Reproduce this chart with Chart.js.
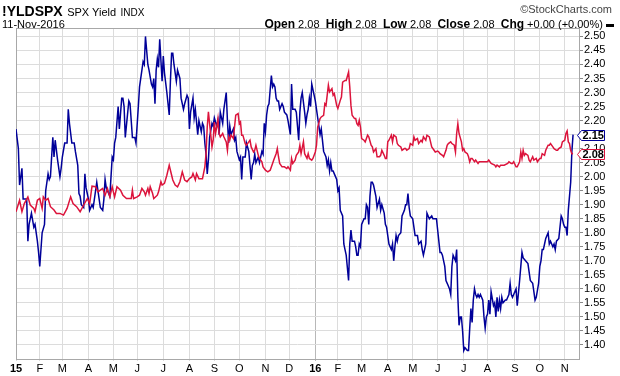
<!DOCTYPE html>
<html>
<head>
<meta charset="utf-8">
<script src="https://cdn.jsdelivr.net/npm/chart.js@4/dist/chart.umd.min.js"></script>
<style>
  html, body { margin: 0; padding: 0; background: #fff; }
  #wrap { position: relative; width: 620px; height: 376px; overflow: hidden; font-family: "Liberation Sans", Arial, sans-serif; }
  #c { position: absolute; left: 0; top: 0; }
  .t { position: absolute; white-space: nowrap; color: #000; line-height: 1; }
</style>
</head>
<body>
<div id="wrap">
  <canvas id="c" width="620" height="376"></canvas>
  <div class="t" style="left:2px;top:3px;"><span style="font-weight:bold;font-size:14px;">!YLDSPX</span> <span style="font-size:11px;">SPX Yield</span> <span style="font-size:10px;">INDX</span></div>
  <div class="t" style="left:2px;top:19px;font-size:11px;">11-Nov-2016</div>
  <div class="t" style="right:8px;top:4px;font-size:11px;color:#444;">©StockCharts.com</div>
  <div class="t" style="right:6px;top:18px;font-size:11px;"><b style="font-size:12px;">Open</b> 2.08 &nbsp;<b style="font-size:12px;">High</b> 2.08 &nbsp;<b style="font-size:12px;">Low</b> 2.08 &nbsp;<b style="font-size:12px;">Close</b> 2.08 &nbsp;<b style="font-size:12px;">Chg</b> +0.00 (+0.00%) <span style="display:inline-block;width:8px;height:3px;background:#000;vertical-align:middle;"></span></div>
</div>
<script>
// [trading-day index from 2-Jan-2015, yield %] for the SPX Yield (red)
const spxPoints = [[0,1.875],[3,1.916],[5,1.875],[7,1.904],[10,1.928],[12,1.899],[15,1.887],[16,1.875],[18,1.916],[20,1.922],
[22,1.887],[23,1.928],[25,1.916],[27,1.922],[29,1.893],[32,1.881],[34,1.869],[37,1.869],[40,1.863],[43,1.887],
[46,1.928],[48,1.904],[51,1.893],[54,1.875],[57,1.899],[60,1.922],[62,1.904],[64,1.966],[67,1.964],[69,1.946],
[71,1.952],[73,1.958],[75,1.934],[77,1.958],[79,1.928],[81,1.964],[83,1.928],[85,1.964],[88,1.952],[90,1.934],
[93,1.922],[95,1.922],[97,1.922],[98,1.952],[99,1.922],[102,1.928],[104,1.934],[106,1.958],[108,1.946],[109,1.934],
[111,1.958],[112,1.940],[113,1.964],[115,1.940],[116,1.922],[119,1.934],[120,1.946],[122,1.982],[123,1.970],[125,1.976],
[127,2.005],[129,2.041],[130,2.023],[132,1.988],[134,1.970],[136,1.964],[138,1.982],[140,2.017],[142,1.988],[144,1.982],
[146,1.993],[148,1.999],[149,2.011],[151,1.988],[152,2.011],[154,1.993],[157,1.993],[159,2.035],[160,2.082],[161,2.177],
[162,2.231],[163,2.189],[165,2.106],[166,2.130],[167,2.195],[168,2.154],[169,2.177],[170,2.207],[171,2.154],[172,2.142],
[174,2.154],[175,2.142],[177,2.124],[178,2.094],[179,2.142],[180,2.130],[181,2.148],[183,2.136],[185,2.219],[187,2.225],
[188,2.189],[189,2.195],[190,2.148],[191,2.148],[193,2.118],[194,2.112],[196,2.124],[197,2.130],[198,2.106],[200,2.088],
[201,2.094],[202,2.112],[204,2.076],[205,2.065],[207,2.053],[208,2.035],[210,2.023],[212,2.017],[214,2.023],[216,2.047],
[217,2.059],[219,2.082],[220,2.100],[221,2.071],[222,2.047],[224,2.035],[226,2.035],[228,2.029],[229,2.035],[231,2.023],
[232,2.065],[233,2.047],[235,2.059],[236,2.076],[238,2.088],[239,2.112],[240,2.082],[242,2.124],[243,2.082],[245,2.065],
[246,2.082],[247,2.065],[249,2.059],[250,2.065],[252,2.088],[253,2.112],[254,2.177],[256,2.207],[257,2.213],[259,2.219],
[260,2.260],[261,2.254],[263,2.326],[264,2.302],[266,2.314],[267,2.290],[268,2.296],[270,2.254],[271,2.243],[273,2.272],
[274,2.284],[275,2.337],[277,2.343],[278,2.343],[280,2.373],[281,2.320],[282,2.254],[283,2.219],[285,2.207],[286,2.207],
[287,2.189],[288,2.183],[289,2.201],[290,2.177],[291,2.136],[293,2.130],[294,2.124],[296,2.148],[297,2.142],[299,2.112],
[300,2.106],[301,2.088],[303,2.100],[304,2.071],[306,2.071],[307,2.076],[308,2.094],[310,2.076],[311,2.065],[312,2.065],
[313,2.124],[314,2.130],[316,2.148],[317,2.124],[318,2.148],[320,2.142],[321,2.118],[322,2.112],[324,2.106],[325,2.094],
[327,2.100],[328,2.100],[329,2.094],[331,2.100],[332,2.118],[334,2.112],[335,2.142],[336,2.130],[338,2.136],[339,2.118],
[341,2.130],[342,2.124],[343,2.142],[345,2.130],[346,2.148],[348,2.142],[349,2.124],[350,2.106],[352,2.094],[353,2.088],
[355,2.091],[356,2.088],[357,2.082],[359,2.076],[360,2.071],[362,2.094],[363,2.112],[364,2.118],[366,2.124],[367,2.118],
[369,2.112],[370,2.088],[371,2.154],[372,2.189],[373,2.154],[375,2.124],[376,2.094],[377,2.100],[378,2.088],[380,2.082],
[381,2.071],[382,2.053],[383,2.065],[384,2.065],[386,2.053],[387,2.059],[389,2.047],[390,2.053],[391,2.053],[394,2.053],
[397,2.053],[398,2.059],[400,2.047],[403,2.041],[404,2.035],[405,2.041],[407,2.035],[408,2.041],[411,2.041],[414,2.047],
[415,2.053],[417,2.047],[418,2.047],[419,2.053],[421,2.035],[422,2.035],[424,2.053],[425,2.088],[426,2.065],[427,2.094],
[428,2.076],[429,2.082],[431,2.076],[432,2.059],[433,2.053],[435,2.071],[436,2.059],[438,2.065],[439,2.053],[441,2.065],
[442,2.065],[443,2.082],[445,2.076],[446,2.094],[448,2.112],[449,2.112],[450,2.118],[452,2.106],[453,2.100],[455,2.094],
[456,2.094],[457,2.100],[459,2.106],[460,2.124],[462,2.130],[463,2.154],[464,2.163],[465,2.124],[466,2.118],[467,2.094],
[468,2.082],[469,2.082]];

// [trading-day index, yield %] for the blue comparison line (10-year Treasury yield)
const tnxPoints = [[0,2.17],[2,2.10],[3,1.97],[5,2.03],[6,1.92],[9,1.92],[10,1.77],[11,1.83],[13,1.87],[15,1.82],
[16,1.83],[18,1.77],[19,1.73],[20,1.68],[22,1.80],[24,1.83],[25,1.95],[27,2.01],[28,1.99],[29,2.00],
[31,2.14],[32,2.07],[33,2.13],[35,2.06],[37,2.00],[38,2.03],[39,2.07],[41,2.12],[43,2.12],[44,2.24],
[45,2.19],[47,2.12],[49,2.12],[50,2.09],[52,2.04],[53,1.94],[54,1.93],[55,1.90],[57,1.89],[58,2.01],
[59,1.96],[60,1.94],[61,1.92],[62,1.88],[64,1.90],[65,1.89],[67,1.95],[68,1.98],[70,1.92],[71,1.89],
[73,1.88],[74,1.92],[75,1.99],[76,1.96],[79,1.93],[80,2.00],[81,2.07],[82,2.06],[83,2.12],[84,2.14],
[86,2.25],[87,2.17],[89,2.28],[90,2.28],[91,2.25],[92,2.14],[95,2.27],[96,2.26],[97,2.20],[98,2.14],
[100,2.14],[101,2.12],[103,2.25],[104,2.32],[106,2.38],[107,2.41],[108,2.40],[109,2.50],[110,2.45],[111,2.40],
[112,2.38],[114,2.33],[115,2.32],[116,2.35],[117,2.26],[118,2.38],[119,2.42],[120,2.39],[121,2.49],[123,2.34],
[124,2.43],[125,2.37],[127,2.30],[129,2.22],[130,2.34],[131,2.44],[132,2.44],[133,2.40],[135,2.34],[136,2.38],
[138,2.35],[139,2.28],[141,2.24],[142,2.26],[144,2.29],[145,2.28],[146,2.17],[147,2.23],[149,2.28],[150,2.21],
[151,2.24],[153,2.15],[154,2.20],[156,2.16],[157,2.19],[158,2.18],[159,2.12],[160,2.08],[161,2.01],[162,2.06],
[163,2.14],[165,2.19],[166,2.18],[167,2.21],[169,2.18],[170,2.20],[171,2.15],[172,2.23],[174,2.19],[175,2.24],
[177,2.30],[178,2.20],[179,2.12],[180,2.18],[181,2.15],[183,2.17],[184,2.13],[185,2.14],[186,2.09],[188,2.06],
[189,2.07],[190,1.99],[191,2.07],[193,2.07],[194,2.12],[196,2.09],[197,2.04],[198,1.99],[199,2.04],[200,2.05],
[201,2.08],[202,2.05],[204,2.07],[205,2.05],[207,2.09],[208,2.08],[209,2.19],[210,2.16],[211,2.22],[212,2.25],
[213,2.26],[215,2.36],[216,2.32],[217,2.33],[218,2.32],[219,2.28],[220,2.27],[221,2.27],[222,2.24],[224,2.26],
[225,2.25],[226,2.23],[228,2.22],[229,2.20],[231,2.15],[232,2.33],[233,2.24],[235,2.24],[236,2.23],[237,2.18],
[238,2.13],[239,2.23],[240,2.28],[241,2.30],[243,2.23],[244,2.19],[245,2.22],[246,2.24],[247,2.28],[248,2.25],
[249,2.33],[250,2.31],[252,2.27],[253,2.24],[254,2.21],[255,2.18],[256,2.15],[257,2.17],[258,2.13],[259,2.09],
[261,2.07],[262,2.04],[263,2.06],[264,2.02],[265,2.05],[266,2.02],[267,2.02],[268,2.01],[270,1.99],[271,1.95],
[272,1.96],[273,1.88],[275,1.86],[276,1.76],[277,1.74],[278,1.72],[280,1.63],[281,1.76],[282,1.81],[283,1.77],
[284,1.77],[285,1.77],[286,1.75],[287,1.72],[288,1.72],[289,1.76],[290,1.75],[291,1.83],[293,1.85],[294,1.85],
[295,1.90],[296,1.89],[297,1.83],[298,1.93],[299,1.98],[300,1.98],[301,1.97],[303,1.93],[304,1.89],[306,1.92],
[307,1.88],[308,1.90],[310,1.87],[311,1.83],[312,1.82],[313,1.79],[314,1.76],[316,1.74],[317,1.76],[318,1.70],
[319,1.75],[320,1.79],[321,1.77],[322,1.79],[324,1.80],[325,1.86],[327,1.88],[328,1.90],[329,1.90],[330,1.94],
[331,1.89],[332,1.86],[334,1.85],[335,1.82],[336,1.79],[338,1.79],[339,1.76],[341,1.77],[342,1.74],[343,1.72],
[345,1.76],[346,1.87],[347,1.86],[348,1.85],[350,1.86],[351,1.85],[353,1.85],[354,1.85],[355,1.81],[357,1.73],
[358,1.73],[359,1.72],[361,1.68],[362,1.63],[364,1.61],[365,1.60],[366,1.58],[367,1.68],[368,1.72],[370,1.70],
[371,1.74],[372,1.57],[373,1.47],[374,1.50],[375,1.50],[376,1.45],[377,1.38],[378,1.39],[380,1.38],[381,1.38],
[382,1.46],[383,1.53],[384,1.48],[385,1.56],[386,1.60],[387,1.58],[388,1.57],[389,1.58],[390,1.57],[391,1.58],
[393,1.56],[394,1.50],[395,1.46],[396,1.50],[397,1.51],[398,1.56],[399,1.51],[400,1.59],[402,1.54],[403,1.55],
[404,1.50],[405,1.57],[406,1.52],[407,1.56],[408,1.53],[409,1.57],[410,1.55],[412,1.56],[413,1.56],[414,1.57],
[415,1.58],[416,1.62],[417,1.58],[418,1.57],[419,1.58],[421,1.60],[422,1.54],[424,1.63],[425,1.68],[426,1.73],
[427,1.71],[429,1.70],[431,1.69],[433,1.63],[435,1.62],[436,1.59],[437,1.56],[438,1.57],[440,1.62],[441,1.68],
[442,1.70],[443,1.74],[444,1.74],[445,1.76],[446,1.78],[448,1.80],[449,1.76],[450,1.77],[451,1.76],[452,1.75],
[453,1.76],[454,1.74],[455,1.77],[457,1.78],[458,1.82],[459,1.86],[460,1.85],[461,1.83],[462,1.82],[463,1.82],
[464,1.79],[465,1.88],[467,1.98],[468,2.09],[469,2.15]];

// month gridlines (trading-day index) and labels
const monthStarts = [0,20,39,61,82,102,124,146,167,188,210,230,252,271,291,313,334,355,377,397,420,441,462];
const monthLabels = ['15','F','M','A','M','J','J','A','S','O','N','D','16','F','M','A','M','J','J','A','S','O','N'];

const yTicks = [1.40,1.45,1.50,1.55,1.60,1.65,1.70,1.75,1.80,1.85,1.90,1.95,2.00,2.05,2.10,2.15,2.20,2.25,2.30,2.35,2.40,2.45,2.50];

const lastValues = [
  { value: tnxPoints[tnxPoints.length - 1][1], color: '#000099' },
  { value: spxPoints[spxPoints.length - 1][1], color: '#dc143c' }
];

const FONT = '"Liberation Sans", Arial, sans-serif';

function labelFor(v) {
  const i = monthStarts.indexOf(v);
  return i >= 0 ? monthLabels[i] : '';
}

const framePlugin = {
  id: 'frame',
  beforeDatasetsDraw(chart) {
    const a = chart.chartArea, ctx = chart.ctx;
    ctx.save();
    ctx.strokeStyle = '#a8a8a8';
    ctx.lineWidth = 1;
    ctx.strokeRect(Math.round(a.left) + 0.5, Math.round(a.top) + 0.5, Math.round(a.right - a.left), Math.round(a.bottom - a.top));
    ctx.restore();
  }
};

const boxPlugin = {
  id: 'lastBoxes',
  afterDraw(chart) {
    const ctx = chart.ctx, ys = chart.scales.y, a = chart.chartArea;
    ctx.save();
    lastValues.forEach(lv => {
      const y = Math.round(ys.getPixelForValue(lv.value)) + 0.5;
      const x0 = Math.round(a.right) - 1.5, x1 = x0 + 4, x2 = x0 + 27;
      ctx.beginPath();
      ctx.moveTo(x0, y);
      ctx.lineTo(x1, y - 5);
      ctx.lineTo(x2, y - 5);
      ctx.lineTo(x2, y + 5);
      ctx.lineTo(x1, y + 5);
      ctx.closePath();
      ctx.fillStyle = '#fff';
      ctx.fill();
      ctx.strokeStyle = lv.color;
      ctx.lineWidth = 1;
      ctx.stroke();
      ctx.fillStyle = '#000';
      ctx.font = 'bold 11px ' + FONT;
      ctx.textBaseline = 'middle';
      ctx.textAlign = 'left';
      ctx.fillText(lv.value.toFixed(2), x1 + 1, y + 0.5);
    });
    ctx.restore();
  }
};

new Chart(document.getElementById('c'), {
  type: 'line',
  data: {
    datasets: [
      {
        label: 'SPX Yield',
        data: spxPoints.map(p => ({ x: p[0], y: p[1] })),
        borderColor: '#dc143c',
        borderWidth: 1.5,
        pointRadius: 0,
        tension: 0
      },
      {
        label: 'Treasury Yield',
        data: tnxPoints.map(p => ({ x: p[0], y: p[1] })),
        borderColor: '#000099',
        borderWidth: 1.5,
        pointRadius: 0,
        tension: 0
      }
    ]
  },
  options: {
    responsive: false,
    animation: false,
    events: [],
    layout: { padding: { left: 16, top: 28, right: 0, bottom: 0 } },
    plugins: { legend: { display: false }, tooltip: { enabled: false }, title: { display: false } },
    scales: {
      x: {
        type: 'linear',
        min: 0,
        max: 474,
        afterBuildTicks(scale) { scale.ticks = monthStarts.map(v => ({ value: v })); },
        afterFit(scale) { scale.height = 17; },
        grid: {
          color: ctx => (ctx.tick && ctx.tick.value === 252) ? '#b8b8b8' : '#dcdcdc',
          tickLength: 2,
          drawTicks: true
        },
        border: { display: false },
        ticks: {
          autoSkip: false,
          maxRotation: 0,
          padding: 1,
          color: '#000',
          callback: v => labelFor(v),
          font: ctx => ({ family: FONT, size: 11, weight: (ctx.tick && /\d/.test(labelFor(ctx.tick.value))) ? 'bold' : 'normal' })
        }
      },
      y: {
        position: 'right',
        min: 1.35,
        max: 2.53,
        afterBuildTicks(scale) { scale.ticks = yTicks.map(v => ({ value: v })); },
        afterFit(scale) { scale.width = 41; },
        grid: { color: '#dcdcdc', tickLength: 4, tickColor: '#888' },
        border: { display: false },
        ticks: {
          autoSkip: false,
          padding: 1,
          color: '#000',
          font: { family: FONT, size: 11 },
          callback: v => Number(v).toFixed(2)
        }
      }
    }
  },
  plugins: [framePlugin, boxPlugin]
});
</script>
</body>
</html>
